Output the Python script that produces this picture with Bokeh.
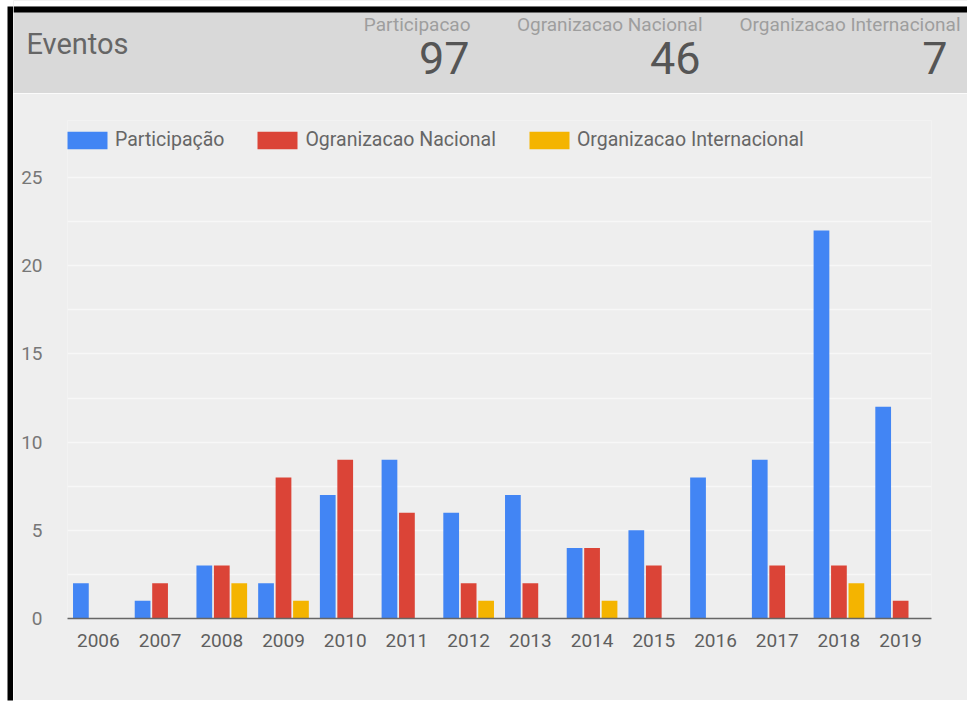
from bokeh.plotting import figure
from bokeh.layouts import row, column
from bokeh.models import (ColumnDataSource, FactorRange, Range1d, FixedTicker,
                          Legend, LegendItem)
from bokeh.transform import dodge
from bokeh.core.properties import value
from bokeh.embed import file_html
from bokeh.resources import INLINE

# ---- data -------------------------------------------------------------
years = ["2006", "2007", "2008", "2009", "2010", "2011", "2012",
         "2013", "2014", "2015", "2016", "2017", "2018", "2019"]
participacao = [2, 1, 3, 2, 7, 9, 6, 7, 4, 5, 8, 9, 22, 12]
nacional = [0, 2, 3, 8, 9, 6, 2, 2, 4, 3, 0, 3, 3, 1]
internacional = [0, 0, 2, 1, 0, 0, 1, 0, 1, 0, 0, 0, 2, 0]

series_labels = ["Participação", "Ogranizacao Nacional", "Organizacao Internacional"]
header_labels = ["Participacao", "Ogranizacao Nacional", "Organizacao Internacional"]
title = "Eventos"
y_ticks = [0, 5, 10, 15, 20, 25]
y_minor = [2.5, 7.5, 12.5, 17.5, 22.5]

# ---- style ------------------------------------------------------------
colors = ["#4285f4", "#db4437", "#f4b400"]
FONT = "Roboto"
PANEL = "#eeeeee"
HEADER = "#d9d9d9"

# ---- left frame stripe -------------------------------------------------
strip = figure(width=13, height=705, x_range=Range1d(0, 13), y_range=Range1d(705, 0),
               x_axis_type=None, y_axis_type=None, toolbar_location=None,
               output_backend="svg", min_border=0, frame_align=False,
               background_fill_color="white", border_fill_color="white",
               outline_line_color=None)
strip.quad(left=7, right=13, top=6, bottom=700, color="black", line_color=None)

# ---- header band with totals -------------------------------------------
head = figure(width=954, height=93, x_range=Range1d(13, 967), y_range=Range1d(93, 0),
              x_axis_type=None, y_axis_type=None, toolbar_location=None,
              output_backend="svg", min_border=0, frame_align=False,
              background_fill_color=HEADER, border_fill_color=HEADER,
              outline_line_color=None)
head.quad(left=13, right=967, top=0, bottom=6, color="white", line_color=None)
head.quad(left=13, right=967, top=6, bottom=12, color="black", line_color=None)
head.text(x=[26], y=[43], text=[title], text_font=value(FONT),
          text_font_size="29px", text_color="#666666",
          text_align="left", text_baseline="middle")

totals = [sum(participacao), sum(nacional), sum(internacional)]
label_right = [470, 702, 960]
value_right = [469, 700, 947]
head.text(x=label_right, y=[24, 24, 24], text=header_labels, text_font=value(FONT),
          text_font_size="19px", text_color="#9e9e9e",
          text_align="right", text_baseline="middle")
head.text(x=value_right, y=[57, 57, 57], text=[str(t) for t in totals],
          text_font=value(FONT), text_font_size="45px", text_color="#555555",
          text_align="right", text_baseline="middle")

# ---- main bar chart ----------------------------------------------------
src = ColumnDataSource(dict(year=years, participacao=participacao,
                            nacional=nacional, internacional=internacional))

# frame spans page y 120..618 with the value 25 sitting at y 177
frame_top, frame_bottom, y25 = 120, 618, 177
y_top = 25 * (frame_bottom - frame_top) / (frame_bottom - y25)

p = figure(width=954, height=607, x_range=FactorRange(*years, range_padding=0),
           y_range=Range1d(0, y_top), toolbar_location=None, output_backend="svg",
           min_border_left=54, min_border_right=36, min_border_top=frame_top - 93,
           min_border_bottom=700 - frame_bottom, frame_align=False,
           background_fill_color=PANEL, border_fill_color=PANEL,
           outline_line_color=None)

offsets = [-0.283, 0.0, 0.283]
fields = ["participacao", "nacional", "internacional"]
renderers = []
for off, field, col in zip(offsets, fields, colors):
    r = p.vbar(x=dodge("year", off, range=p.x_range), top=field, width=0.255,
               source=src, fill_color=col, line_color=None)
    renderers.append(r)

# legend swatches are inset by 10% of the glyph area, so size the area to
# give roughly 40x18 px boxes and shift the legend left by the inset
glyph_w, glyph_h = 50, 22
legend_top = 129
legend = Legend(items=[LegendItem(label=lab, renderers=[r])
                       for lab, r in zip(series_labels, renderers)],
                location=(-5, frame_bottom - legend_top - glyph_h),
                orientation="horizontal",
                margin=0, padding=0, spacing=28,
                glyph_width=glyph_w, glyph_height=glyph_h, label_height=20,
                label_standoff=3, label_text_font=FONT,
                label_text_font_size="19.5px", label_text_color="#666666",
                background_fill_alpha=0, border_line_alpha=0)
p.add_layout(legend)

ticker = FixedTicker(ticks=y_ticks, minor_ticks=y_minor)
p.yaxis.ticker = ticker
p.ygrid.ticker = ticker
p.ygrid.grid_line_color = "#f7f7f7"
p.ygrid.grid_line_width = 1.5
p.ygrid.minor_grid_line_color = "#f7f7f7"
p.ygrid.minor_grid_line_width = 1.5
p.xgrid.grid_line_color = None

p.yaxis.axis_line_color = None
p.yaxis.major_tick_line_color = None
p.yaxis.minor_tick_line_color = None
p.yaxis.major_label_standoff = 19
p.yaxis.major_label_text_font = FONT
p.yaxis.major_label_text_font_size = "19px"
p.yaxis.major_label_text_color = "#777777"

p.xaxis.axis_line_color = "#666666"
p.xaxis.axis_line_width = 1.5
p.xaxis.major_tick_line_color = None
p.xaxis.minor_tick_line_color = None
p.xaxis.major_label_standoff = 9
p.xaxis.major_label_text_font = FONT
p.xaxis.major_label_text_font_size = "19px"
p.xaxis.major_label_text_color = "#5f5f5f"

layout = row(strip, column(head, p, spacing=0), spacing=0)

open("out.html", "w").write(file_html(layout, INLINE))
